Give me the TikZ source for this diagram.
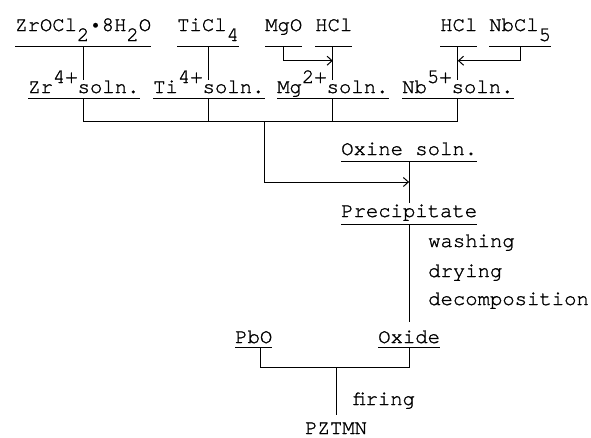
\documentclass[tikz,border=0pt]{standalone}
\usepackage{fontspec}
\newfontfamily\tw[FakeBold=1.2]{TeX Gyre Cursor}
\usetikzlibrary{arrows.meta,calc}
\newcommand\sbx[1]{\raisebox{-10pt}{#1}}
\newcommand\spx[1]{\raisebox{10pt}{#1}}
\newcommand\dotx{\makebox[0.6em]{\raisebox{2.5pt}{\scalebox{0.75}{•}}}}
\begin{document}
\begin{tikzpicture}[x=1pt,y=1pt,
  lbl/.style={anchor=base west, inner sep=0pt, font=\tw\fontsize{20.6pt}{24pt}\selectfont},
  toprow/.style={lbl, text height=14pt, text depth=15.5pt},
  midrow/.style={lbl, text height=13pt, text depth=5.5pt},
  ln/.style={line width=1pt},
  ulline/.style={line width=0.9pt},
  arr/.style={ln, -{Straight Barb[length=5pt,width=9pt]}},
]
\useasboundingbox (0,0) rectangle (591,-437);
% row 1
\node[toprow] (zrocl) at (15,-31) {ZrOCl\sbx{2}\dotx 8H\sbx{2}O};
\node[toprow] (ticl) at (177,-31) {TiCl\sbx{4}};
\node[toprow] (mgo) at (265,-31) {MgO};
\node[toprow] (hcla) at (315,-31) {HCl};
\node[toprow] (hclb) at (440,-31) {HCl};
\node[toprow] (nbcl) at (489,-31) {NbCl\sbx{5}};
% row 2
\node[midrow] (zr) at (28,-93) {Zr\spx{4+}soln.};
\node[midrow] (ti) at (153,-93) {Ti\spx{4+}soln.};
\node[midrow] (mg) at (277,-93) {Mg\spx{2+}soln.};
\node[midrow] (nb) at (402,-93) {Nb\spx{5+}soln.};
% middle
\node[lbl, text height=14pt, text depth=6pt] (oxine) at (341,-155) {Oxine soln.};
\node[lbl, text height=14pt, text depth=7pt] (precip) at (341,-217) {Precipitate};
\node[lbl] (wash) at (428,-247) {washing};
\node[lbl] (dry) at (428,-277) {drying};
\node[lbl] (decomp) at (428,-305) {decomposition};
\node[lbl, text height=21pt, text depth=4.5pt] (oxide) at (378,-343) {Oxide};
\node[lbl, text height=14pt, text depth=4.5pt] (pbo) at (235,-343) {PbO};
\node[lbl] (firing) at (353,-405) {firing};
\node[lbl, text height=19pt, text depth=0pt] (pztmn) at (305,-434) {PZTMN};
% underlines
\foreach \n in {zrocl,ticl,mgo,hcla,hclb,nbcl,zr,ti,mg,nb,oxine,precip,oxide,pbo}
  \draw[ulline] (\n.south west) -- (\n.south east);
% connectors row1 -> row2
\draw[ln] (zr.north |- zrocl.south) -- (zr.north);
\draw[ln] (ti.north |- ticl.south) -- (ti.north);
\draw[ln] (mg.north |- hcla.south) -- (mg.north);
\draw[ln] (nb.north |- hclb.south) -- (nb.north);
\draw[arr] (mgo.south) -- ++(0,-14) coordinate (m1) -- (m1 -| mg.north);
\draw[arr] (nbcl.south) -- ++(0,-14) coordinate (m2) -- (m2 -| nb.north);
% collect
\draw[ln] (zr.south) -- ++(0,-23) coordinate (j1) -- (j1 -| nb.south) -- (nb.south);
\draw[ln] (ti.south) -- (ti.south |- j1);
\draw[ln] (mg.south) -- (mg.south |- j1);
\draw[arr] (j1 -| ti.south east) |- ($(oxide.north |- oxine.south)!0.5!(oxide.north |- precip.north)$);
\draw[ln] (oxide.north |- oxine.south) -- (oxide.north |- precip.north);
\draw[ln] (oxide.north |- precip.south) -- (oxide.north);
% final
\draw[ln] ([xshift=7pt]pbo.south) -- ++(0,-20) coordinate (j3) -- (j3 -| oxide.south) -- (oxide.south);
\draw[ln] (pztmn.north |- j3) -- (pztmn.north);
\end{tikzpicture}
\end{document}
